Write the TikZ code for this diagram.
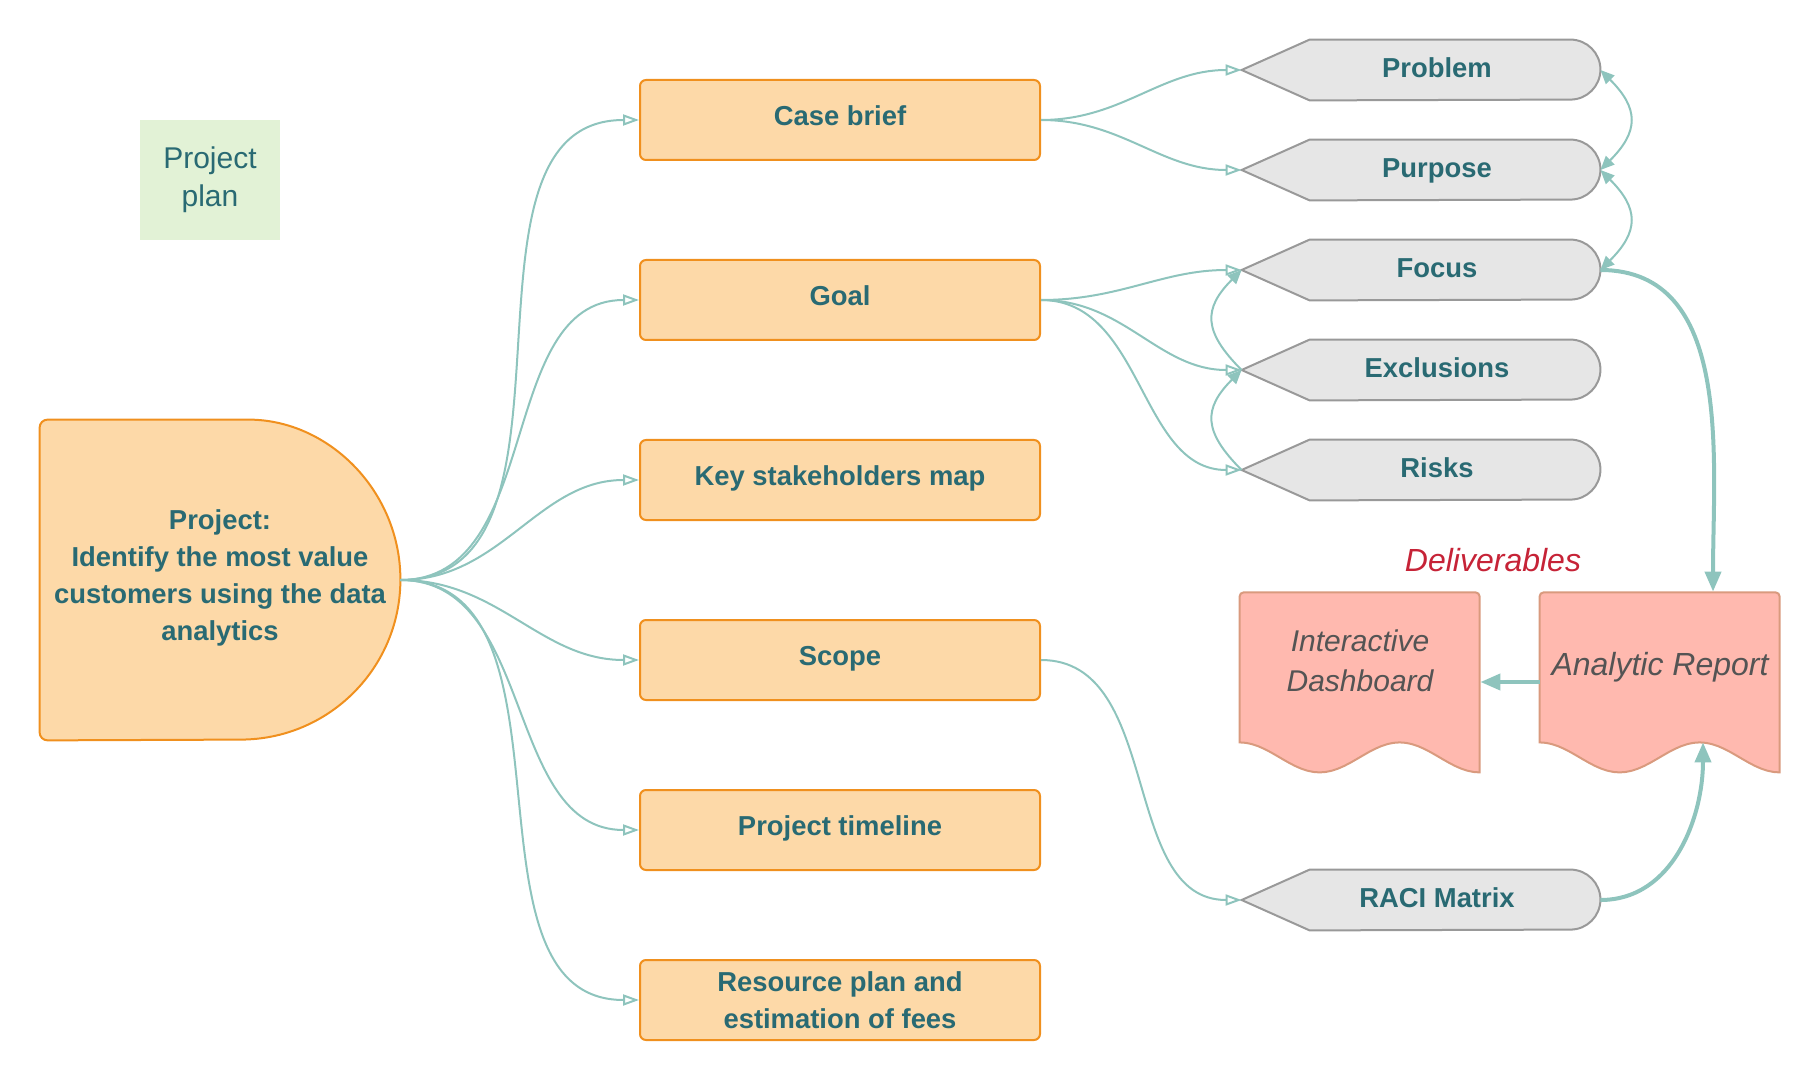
\documentclass[tikz,border=0pt]{standalone}
\usepackage{fontspec}
\setmainfont{Liberation Sans}
\usetikzlibrary{arrows.meta,positioning,backgrounds}
\definecolor{PlanTeal}{HTML}{296A73}
\definecolor{PlanLine}{HTML}{8EC4BD}
\definecolor{PlanOrange}{HTML}{FDD9A8}
\definecolor{PlanEdge}{HTML}{F0901E}
\definecolor{PlanGrey}{HTML}{E6E6E6}
\definecolor{PlanGreyEdge}{HTML}{999999}
\definecolor{PlanPink}{HTML}{FFB9AF}
\definecolor{PlanPinkEdge}{HTML}{D99A7E}
\definecolor{PlanGreen}{HTML}{E2F2D6}
\definecolor{PlanRed}{HTML}{C62337}
\begin{document}
\begin{tikzpicture}[x=0.5pt,y=0.5pt,node distance=49pt and 0pt,
    every node/.style={align=center,text=PlanTeal,font=\fontsize{13.7}{18.5}\selectfont\bfseries},
    topic/.style={draw=PlanEdge,line width=1pt,rounded corners=3pt,fill=PlanOrange,minimum width=200pt,minimum height=40pt,inner sep=0pt},
    lift/.style={text height=10pt,text depth=4.6pt},
    tag/.style={minimum width=163pt,minimum height=30pt,inner sep=0pt,text height=10pt,text depth=2.4pt},
    doc/.style={minimum width=120pt,minimum height=75pt,inner sep=0pt,text=black!67,font=\fontsize{15}{20}\selectfont\itshape},
    link/.style={PlanLine,line width=1pt,-{Triangle[open,length=8pt,width=5.5pt]}},
    hook/.style={PlanLine,line width=1pt,-{Triangle[length=7pt,width=6pt]}},
    feed/.style={PlanLine,line width=2pt,-{Triangle[length=10pt,width=8pt]}}]
    \useasboundingbox (0,0) rectangle (1820,-1080);
    % left side
    \node[fill=PlanGreen,minimum width=70pt,minimum height=60pt,inner sep=0pt,font=\fontsize{15}{19}\selectfont] (plan) at (210,-180) {Project\\plan};
    \node[minimum width=180pt,minimum height=160pt,inner sep=0pt] (project) at (220,-578) {Project:\\Identify the most value\\customers using the data\\analytics};
    % topics
    \node[topic,lift] (case) at (840,-120) {Case brief};
    \node[topic,lift,below=of case] (goal) {Goal};
    \node[topic,lift,below=of goal] (stake) {Key stakeholders map};
    \node[topic,lift,below=of stake] (scope) {Scope};
    \node[topic,lift,below=44pt of scope] (timeline) {Project timeline};
    \node[topic,below=44pt of timeline] (resource) {Resource plan and\\estimation of fees};
    % tags
    \node[tag] (problem) at (1437,-70) {Problem};
    \node[tag,below=19.6pt of problem] (purpose) {Purpose};
    \node[tag,below=19.6pt of purpose] (focus) {Focus};
    \node[tag,below=19.6pt of focus] (excl) {Exclusions};
    \node[tag,below=19.6pt of excl] (risks) {Risks};
    \node[tag] (raci) at (1437,-900) {RACI Matrix};
    % deliverables
    \node[font=\fontsize{16}{20}\selectfont\itshape,text=PlanRed] (deliv) at (1493,-560) {Deliverables};
    \node[doc] (dashboard) at (1360,-661) {Interactive\\Dashboard};
    \node[doc,font=\fontsize{16}{20}\selectfont\itshape] (report) at (1660,-667) {Analytic Report};
    \begin{scope}[on background layer]
      \path[draw=PlanEdge,fill=PlanOrange,line width=1pt] ([xshift=-80pt,yshift=-1pt]project.north east) arc[start angle=90,end angle=-90,radius=80pt] [rounded corners=4pt] -- ([yshift=-1pt]project.south west) -- ([yshift=-1pt]project.north west) -- cycle;
      \foreach \t in {problem,purpose,focus,excl,risks,raci}{\path[draw=PlanGreyEdge,fill=PlanGrey,line width=1pt] ([xshift=-16pt]\t.west) -- ([xshift=18pt]\t.north west) -- ([xshift=-15pt]\t.north east) arc[start angle=90,end angle=-90,radius=15pt] -- ([xshift=18pt]\t.south west) -- cycle;}
      \foreach \d/\dy in {dashboard/-3pt,report/0pt}{\path[draw=PlanPinkEdge,fill=PlanPink,line width=1pt,shift={([yshift=\dy]\d.south west)}] (0,0) -- (0,146) arc[start angle=180,end angle=90,radius=2pt] -- (236,150) arc[start angle=90,end angle=0,radius=2pt] -- (240,-30) -- plot[domain=1:0,samples=40] ({240*\x},{-15+15*cos(540*\x)}) -- cycle;}
    \end{scope}
    % connectors
    \foreach \b in {case,goal,stake,scope,timeline,resource}{\draw[link] ([yshift=-1pt]project.east) to[out=0,in=180] (\b.west);}
    \foreach \a/\b in {case/problem,case/purpose,goal/focus,goal/excl,goal/risks,scope/raci}{\draw[link] (\a.east) to[out=0,in=180] ([xshift=-16pt]\b.west);}
    \foreach \a/\b in {excl/focus,risks/excl}{\draw[hook] ([xshift=-16pt]\a.west) to[out=135,in=-135,looseness=1.4] ([xshift=-16pt]\b.west);}
    \foreach \a/\b in {purpose/problem,focus/purpose}{\draw[hook,{Triangle[length=7pt,width=6pt]}-{Triangle[length=7pt,width=6pt]}] (\a.east) to[out=45,in=-45,looseness=1.4] (\b.east);}
    \draw[feed] (focus.east) to[out=0,in=90] ([xshift=26.5pt]report.north);
    \draw[feed] (raci.east) to[out=0,in=-90] ([xshift=21.5pt]report.south);
    \draw[feed] ([yshift=-7.5pt]report.west) -- ([yshift=-10.5pt]dashboard.east);
\end{tikzpicture}
\end{document}
